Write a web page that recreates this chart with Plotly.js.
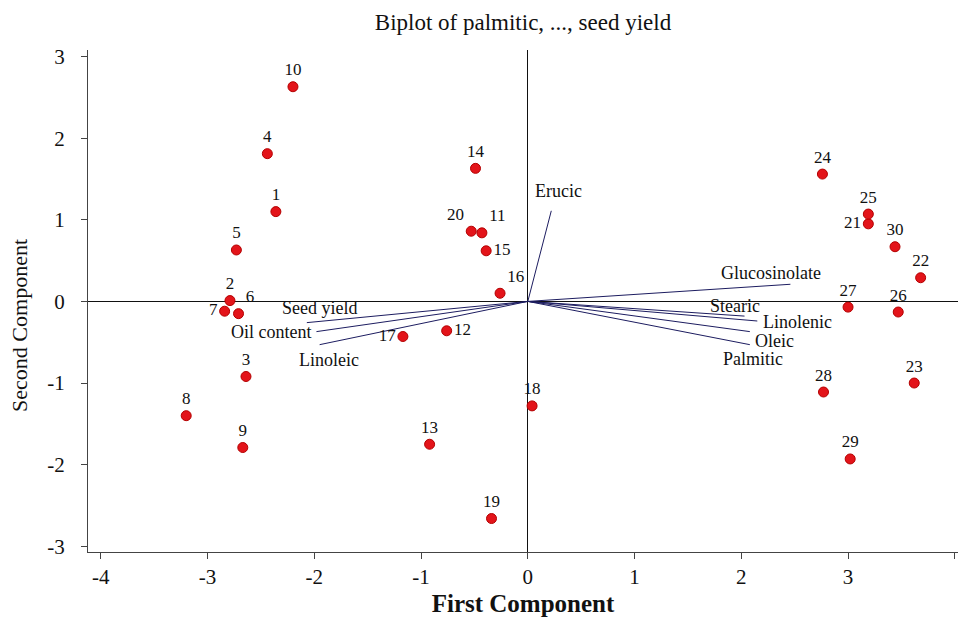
<!DOCTYPE html>
<html>
<head>
<meta charset="utf-8">
<script src="https://cdn.plot.ly/plotly-3.0.1.min.js"></script>
<style>
  html, body { margin: 0; padding: 0; background: #ffffff; }
  #chart { width: 958px; height: 622px; }
</style>
</head>
<body>
<div id="chart"></div>
<script>
// Observation scores on the first two principal components
const obsLabels = ['1','2','3','4','5','6','7','8','9','10',
                   '11','12','13','14','15','16','17','18','19','20',
                   '21','22','23','24','25','26','27','28','29','30'];
const pc1Scores = [-2.36, -2.79, -2.64, -2.44, -2.73, -2.71, -2.84, -3.20, -2.67, -2.20,
                   -0.43, -0.76, -0.92, -0.49, -0.39, -0.26, -1.17,  0.04, -0.34, -0.53,
                    3.19,  3.68,  3.62,  2.76,  3.19,  3.47,  3.00,  2.77,  3.02,  3.44];
const pc2Scores = [ 1.10,  0.01, -0.92,  1.81,  0.63, -0.15, -0.12, -1.40, -1.79,  2.63,
                    0.84, -0.36, -1.75,  1.63,  0.62,  0.10, -0.43, -1.28, -2.66,  0.86,
                    0.95,  0.29, -1.00,  1.56,  1.07, -0.13, -0.07, -1.11, -1.93,  0.67];

// Variable loadings (vector end points)
const varNames = ['Erucic', 'Glucosinolate', 'Stearic', 'Linolenic', 'Oleic',
                  'Palmitic', 'Seed yield', 'Oil content', 'Linoleic'];
const varPC1 = [0.22, 2.46, 2.03, 2.15, 2.08, 2.08, -2.07, -1.98, -1.95];
const varPC2 = [1.11, 0.21, -0.18, -0.24, -0.37, -0.53, -0.26, -0.37, -0.53];

// Axis ticks (plain hyphen for negatives)
const xTicks = [-4, -3, -2, -1, 0, 1, 2, 3, 4];
const xTickText = ['-4', '-3', '-2', '-1', '0', '1', '2', '3', '4'];
const yTicks = [-3, -2, -1, 0, 1, 2, 3];
const yTickText = ['-3', '-2', '-1', '0', '1', '2', '3'];

// Label placement (pixel offsets / text positions)
const obsTextPos = {
  '6': 'top right', '7': 'middle left', '11': 'top right', '20': 'top left',
  '12': 'middle right', '15': 'middle right', '17': 'middle left',
  '21': 'middle left', '16': 'top right'
};
const varLabelShift = {
  'Erucic': [7, 20], 'Glucosinolate': [-19, 11], 'Stearic': [-10, 10],
  'Linolenic': [40, -1], 'Oleic': [25, -9], 'Palmitic': [3, -14],
  'Seed yield': [13, 15], 'Oil content': [-45, 0], 'Linoleic': [9, -15]
};

const serif = 'Liberation Serif';
const vecColor = '#1c1c60';

const traces = [];

// Loading vectors drawn from the origin
varNames.forEach((name, i) => {
  traces.push({
    type: 'scatter', mode: 'lines',
    x: [0, varPC1[i]], y: [0, varPC2[i]],
    line: { color: vecColor, width: 1 },
    hoverinfo: 'skip', showlegend: false
  });
});

// Observation points with their numbers
traces.push({
  type: 'scatter', mode: 'markers+text',
  x: pc1Scores, y: pc2Scores, text: obsLabels,
  textposition: obsLabels.map(l => obsTextPos[l] || 'top center'),
  textfont: { family: serif, size: 17, color: '#111111' },
  marker: { color: '#e3141a', size: 10, line: { color: '#b40000', width: 1 } },
  cliponaxis: false, showlegend: false
});

const annotations = varNames.map((name, i) => ({
  x: varPC1[i], y: varPC2[i], xref: 'x', yref: 'y',
  text: name, showarrow: false,
  xshift: varLabelShift[name][0], yshift: varLabelShift[name][1],
  font: { family: serif, size: 18, color: '#111111' }
}));

// Vertical axis title, placed a little below the plot centre
annotations.push({
  text: 'Second Component', textangle: -90, showarrow: false,
  xref: 'paper', x: 0, xanchor: 'center', xshift: -68,
  yref: 'y', y: -0.3, yanchor: 'middle',
  font: { family: serif, size: 22, color: '#111111' }
});

const layout = {
  width: 958, height: 622,
  margin: { l: 88, r: 0, t: 50, b: 70 },
  paper_bgcolor: '#ffffff', plot_bgcolor: '#ffffff',
  showlegend: false,
  font: { family: serif },
  title: {
    text: 'Biplot of palmitic, ..., seed yield',
    font: { family: serif, size: 23, color: '#111111' },
    x: 0.5, xref: 'paper', y: 0.965, yref: 'container', yanchor: 'middle'
  },
  xaxis: {
    range: [-4.12, 4.03], tickvals: xTicks, ticktext: xTickText,
    showgrid: false, zeroline: true, zerolinecolor: '#111111', zerolinewidth: 1,
    showline: true, linecolor: '#444444', linewidth: 1, mirror: false,
    ticks: 'outside', ticklen: 6, tickcolor: '#444444',
    tickfont: { family: serif, size: 21, color: '#111111' },
    title: { text: '<b>First Component</b>', font: { family: serif, size: 25, color: '#111111' }, standoff: 6 }
  },
  yaxis: {
    range: [-3.07, 3.08], tickvals: yTicks, ticktext: yTickText,
    showgrid: false, zeroline: true, zerolinecolor: '#111111', zerolinewidth: 1,
    showline: true, linecolor: '#444444', linewidth: 1, mirror: false,
    ticks: 'outside', ticklen: 6, tickcolor: '#444444', ticklabelstandoff: 12,
    tickfont: { family: serif, size: 21, color: '#111111' }
  },
  annotations: annotations
};

Plotly.newPlot('chart', traces, layout, { displayModeBar: false, staticPlot: true });
</script>
</body>
</html>
